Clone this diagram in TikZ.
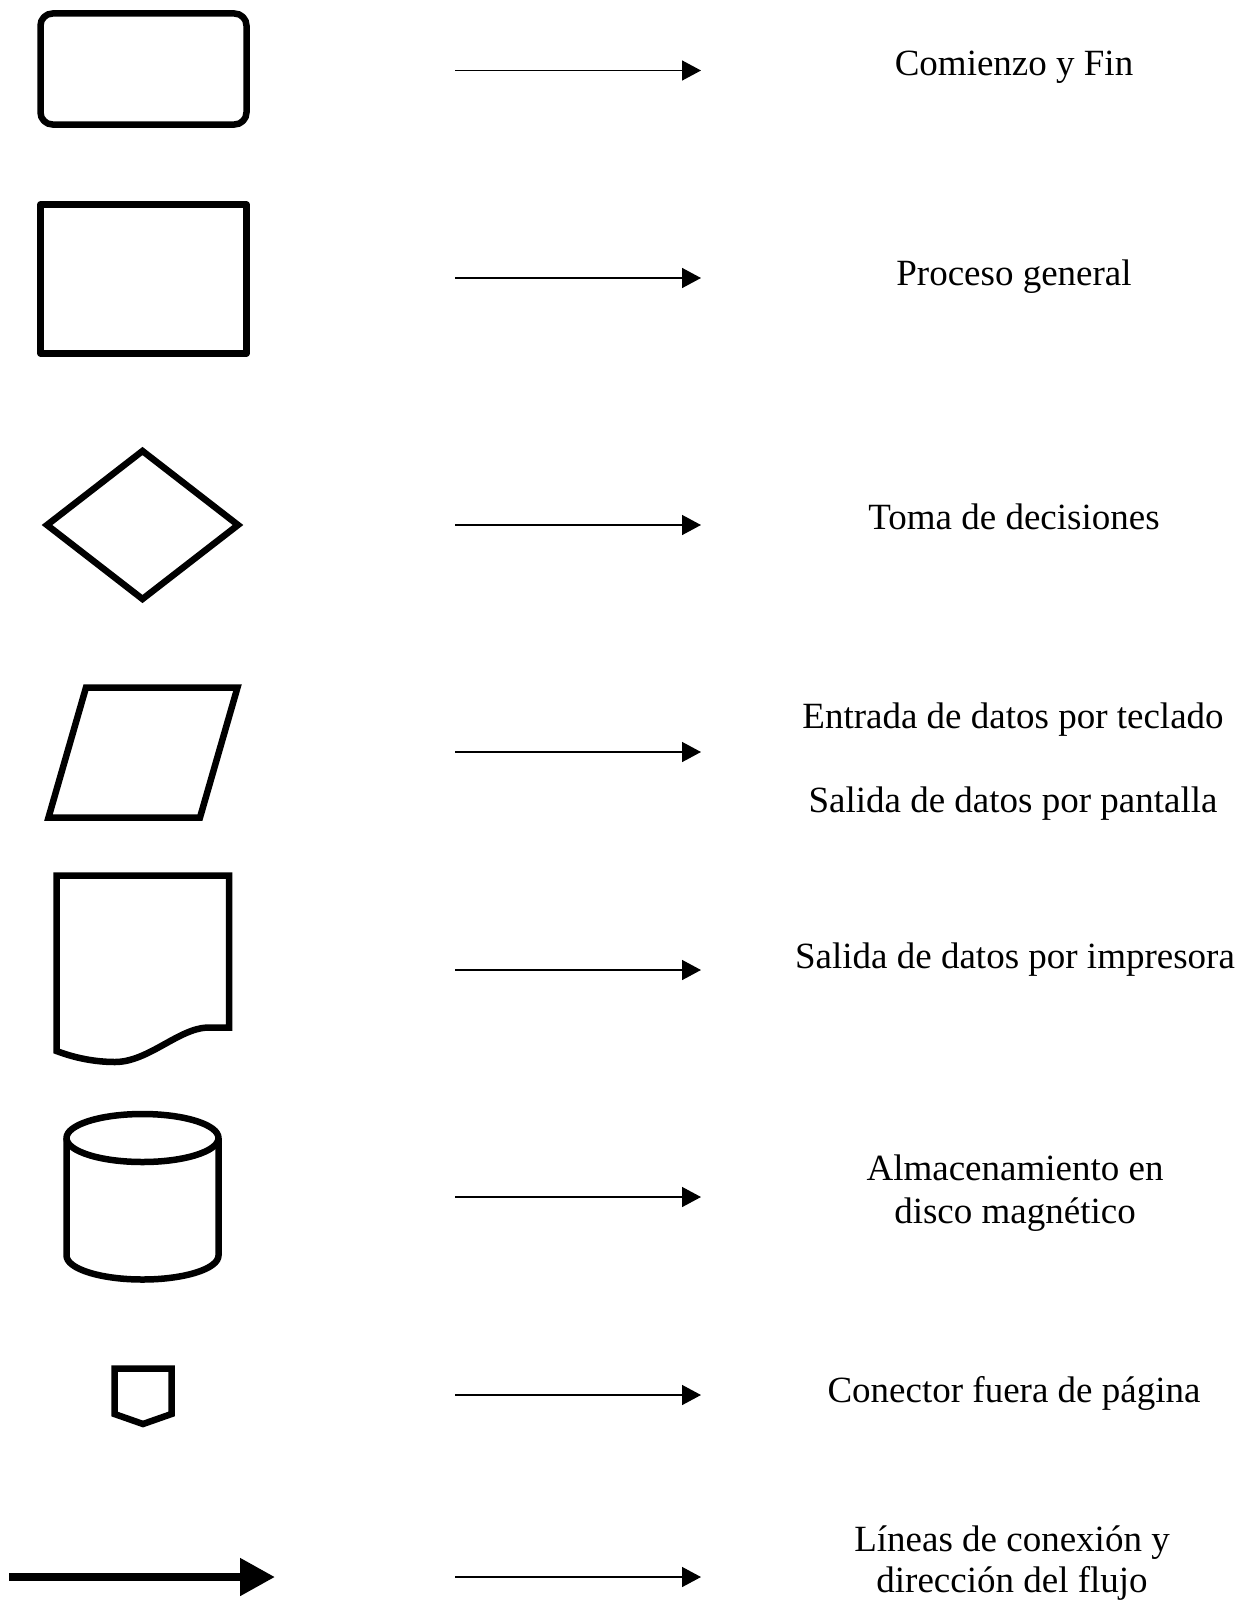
\documentclass[tikz,border=0pt]{standalone}
\usepackage{fontspec}
\setmainfont{Liberation Serif}
\usetikzlibrary{arrows.meta}
\tikzset{
  shapeline/.style={draw=black, line width=6.5pt, line join=round},
  legarrow/.style={draw=black, line width=1.5pt, -{Triangle[length=19pt,width=20pt]}},
  flowarrow/.style={draw=black, line width=8pt, -{Triangle[length=35pt,width=36pt]}},
  label/.style={anchor=base, inner sep=0pt, font=\fontsize{37}{43}\selectfont}
}
\begin{document}
\begin{tikzpicture}[x=1pt,y=-1pt]
\useasboundingbox (0,0) rectangle (1255,1603);
\fill[white] (0,0) rectangle (1255,1603);

% shapes
\draw[shapeline, rounded corners=12pt] (40.5,13.5) rectangle (246.5,124.5);
\draw[shapeline] (40.5,204.5) rectangle (246.5,353.5);
\draw[shapeline, line join=miter] (47,525) -- (142.5,451) -- (238,525) -- (142.5,599) -- cycle;
\draw[shapeline, line join=miter] (86,687.5) -- (237.5,687.5) -- (200,817.5) -- (48.5,817.5) -- cycle;
\draw[shapeline, line join=miter] (56.5,875.5) -- (229,875.5) -- (229,1027.5) -- (207,1027.5)
  .. controls (178,1029) and (148,1062) .. (115,1062)
  .. controls (95,1062) and (75,1058) .. (56.5,1051) -- cycle;
\draw[shapeline] (66.5,1138) -- (66.5,1255.5)
  .. controls (66.5,1268.75) and (100.5,1279.5) .. (142.5,1279.5)
  .. controls (184.5,1279.5) and (218.5,1268.75) .. (218.5,1255.5) -- (218.5,1138);
\draw[shapeline] (142.5,1138) ellipse [x radius=76pt, y radius=24pt];
\draw[shapeline, line join=miter] (114.5,1368.5) -- (171.5,1368.5) -- (171.5,1414) -- (143,1424) -- (114.5,1414) -- cycle;

% thick flow arrow
\coordinate (fs) at (9,1577);
\coordinate (fe) at (275,1577);
\draw[flowarrow] (fs) -- (fe);

% legend arrows
\foreach \i/\yy in {1/70.5, 2/278, 3/525, 4/752, 5/970, 6/1197, 7/1395, 8/1577} {
  \coordinate (s\i) at (455,\yy);
  \coordinate (e\i) at (701,\yy);
  \draw[legarrow] (s\i) -- (e\i);
}

% labels
\node[label] (t1) at (1014,75) {Comienzo y Fin};
\node[label] (t2) at (1014,285) {Proceso general};
\node[label] (t3) at (1014,529) {Toma de decisiones};
\node[label] (t4a) at (1013,728) {Entrada de datos por teclado};
\node[label] (t4b) at (1013,812) {Salida de datos por pantalla};
\node[label] (t5) at (1015,968) {Salida de datos por impresora};
\node[label] (t6a) at (1015,1180) {Almacenamiento en};
\node[label] (t6b) at (1015,1223) {disco magnético};
\node[label] (t7) at (1014,1402) {Conector fuera de página};
\node[label] (t8a) at (1012,1551) {Líneas de conexión y};
\node[label] (t8b) at (1012,1592) {dirección del flujo};
\end{tikzpicture}
\end{document}
